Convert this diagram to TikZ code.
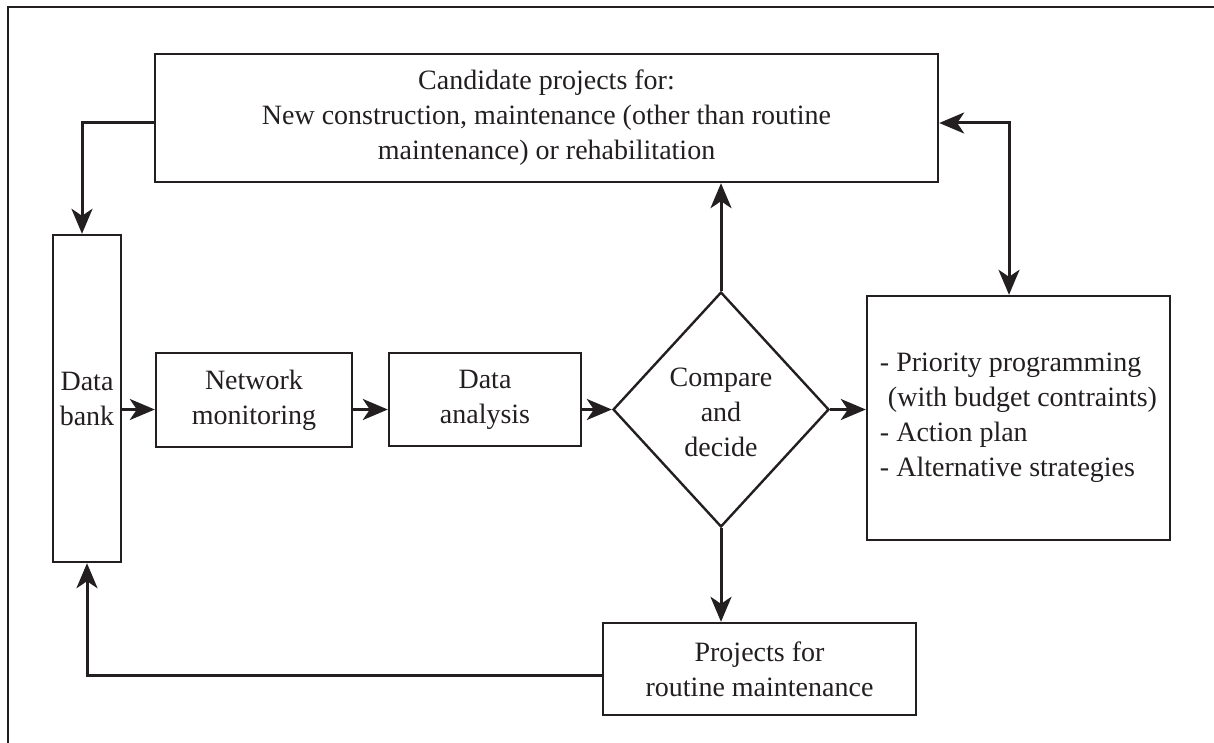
\documentclass[tikz,border=0pt]{standalone}
\usepackage{fontspec}
\setmainfont{Liberation Serif}
\usetikzlibrary{arrows.meta,shapes.geometric}
\definecolor{ink}{HTML}{231F20}
\begin{document}
\begin{tikzpicture}[x=0.5pt,y=-0.5pt,
  txt/.style={font=\fontsize{14}{17.5}\selectfont,text=ink},
  box/.style={draw=ink,line width=1.2pt,rectangle,inner sep=0pt,align=center,txt},
  tip/.style={Stealth[length=12.5pt,width=10.5pt,inset=3.5pt]},
  conn/.style={draw=ink,line width=1.5pt,-{Stealth[length=12.5pt,width=10.5pt,inset=3.5pt]}},
  dconn/.style={draw=ink,line width=1.5pt,{Stealth[length=12.5pt,width=10.5pt,inset=3.5pt]}-{Stealth[length=12.5pt,width=10.5pt,inset=3.5pt]}}
]
\useasboundingbox (0,0) rectangle (1214,743);
\draw[ink,line width=1pt] (1214,7) -- (8,7) -- (8,743);

\node[box,minimum width=391.5pt,minimum height=64pt] (top) at (546.5,118)
  {Candidate projects for:\\New construction, maintenance (other than routine\\maintenance) or rehabilitation};
\node[box,minimum width=34pt,minimum height=163.5pt] (bank) at (87,398.5) {Data\\bank};
\node[box,minimum width=98pt,minimum height=47pt] (net) at (254,400) {Network\\monitoring};
\node[box,minimum width=96pt,minimum height=46.5pt] (ana) at (485,399.5) {Data\\analysis};
\node[diamond,draw=ink,line width=1.2pt,minimum width=108pt,minimum height=117.5pt,inner sep=0pt,
  label={[txt,align=center,yshift=-1.5pt]center:Compare\\and\\decide}] (dec) at (721,409.5) {};
\node[box,align=left,minimum width=151.5pt,minimum height=122pt] (right) at (1018.5,418)
  {- Priority programming\\\hspace*{4pt}(with budget contraints)\\- Action plan\\- Alternative strategies};
\node[box,minimum width=156.5pt,minimum height=46pt] (proj) at (759.5,669) {Projects for\\routine maintenance};

\draw[conn] (bank.east |- dec.west) -- (net.west |- dec.west);
\draw[conn] (net.east |- dec.west) -- (ana.west |- dec.west);
\draw[conn] (ana.east |- dec.west) -- (dec.west);
\draw[conn] (dec.east) -- (dec.east -| right.west);
\draw[conn] (dec.north) -- (dec.north |- top.south);
\draw[conn] (dec.south) -- (dec.south |- proj.north);
\draw[conn] ([yshift=-2.5pt]top.west) -| ([xshift=-2.5pt]bank.north);
\draw[conn] ([yshift=-3pt]proj.west) -| (bank.south);
\draw[dconn] ([yshift=-2.5pt]top.east) -| ([xshift=-4.75pt]right.north);
\end{tikzpicture}
\end{document}
